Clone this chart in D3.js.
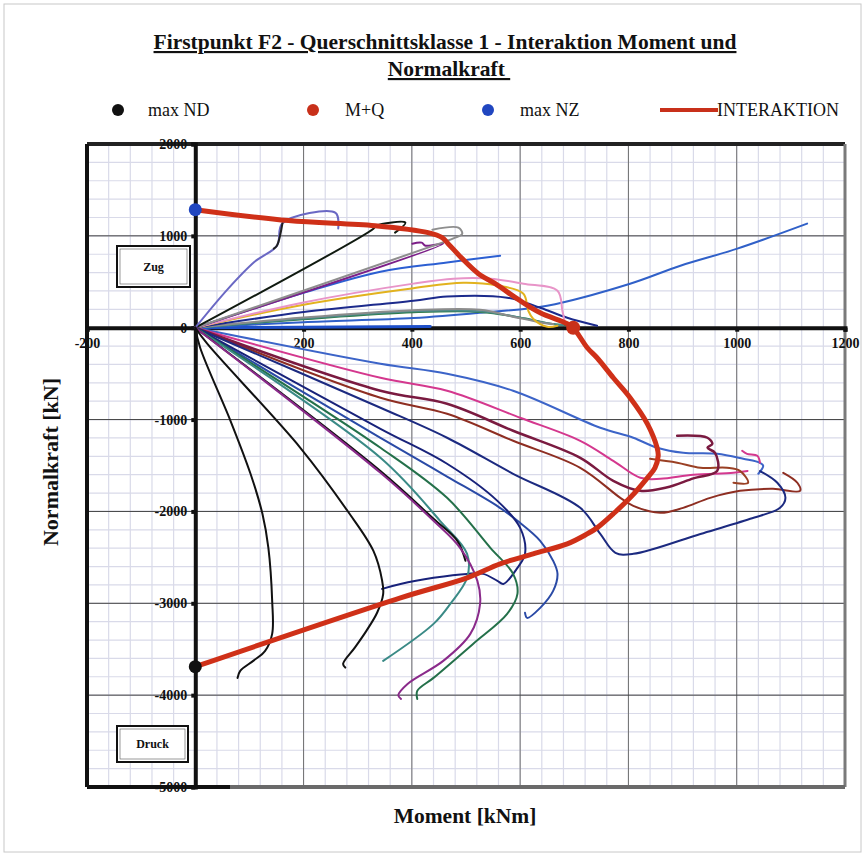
<!DOCTYPE html>
<html>
<head>
<meta charset="utf-8">
<script src="https://cdn.jsdelivr.net/npm/d3@7"></script>
<style>
  html, body { margin: 0; padding: 0; background: #fff; }
  svg { display: block; }
</style>
</head>
<body>
<svg id="chart" width="865" height="858"></svg>
<script>
// ---- Axis ticks ----
const xTickValues = [-200, 200, 400, 600, 800, 1000, 1200];
const yTickValues = [2000, 1000, 0, -1000, -2000, -3000, -4000, -5000];

// ---- Characteristic points [M kNm, N kN] ----
const maxND = [0, -3690];
const mPlusQ = [698, 0];
const maxNZ = [0, 1285];

// ---- Interaction curve ----
const interaktion = [[0,1285],[172,1166],[332,1111],[430,1035],[456,980],[467,915],[493,752],[523,588],[554,479],[600,294],[637,163],[687,44],[698,0],[724,-218],[742,-327],[772,-545],[803,-762],[835,-1046],[853,-1307],[855,-1394],[849,-1525],[835,-1634],[803,-1852],[772,-2026],[742,-2179],[724,-2244],[687,-2353],[624,-2462],[563,-2571],[502,-2723],[379,-2941],[0,-3690]];

// ---- Load paths, tension side ----
const tPeriwinkle = [[0,0],[60,420],[110,720],[151,894],[161,1137],[259,1250],[264,1080]];
const tPeriwinkleDark = [[145,860],[151,894],[161,1137]];
const tBlack = [[0,0],[329,1078],[334,1111],[388,1144],[369,1035]];
const tGray = [[0,0],[456,926],[480,980],[493,1024],[486,1089],[438,1067]];
const tPurple = [[0,0],[458,915],[425,893],[418,926],[401,915]];
const tBlue = [[0,0],[200,380],[342,610],[465,710],[563,784]];
const tPink = [[0,0],[200,275],[403,480],[477,534],[545,534],[606,479],[669,403],[678,185],[683,44]];
const tYellow = [[0,0],[200,250],[403,430],[495,490],[558,460],[606,370],[615,185],[624,98],[650,10],[669,22]];
const tNavy = [[0,0],[200,170],[403,294],[465,340],[576,327],[637,218],[687,109],[742,22]];
const tGray2 = [[0,0],[200,110],[403,190],[526,195],[587,120],[640,55],[661,40]];
const tTeal = [[0,0],[200,100],[403,180],[526,180],[600,110],[650,50],[680,30]];
const tGreen = [[0,0],[200,92],[403,168],[526,172],[610,100],[660,40],[690,25]];
const tBlueFar = [[0,0],[200,60],[403,105],[526,163],[650,240],[803,479],[896,675],[1001,861],[1130,1133]];
const tBlueAxis = [[0,0],[434,12]];

// ---- Load paths, compression side ----
const cBlue = [[0,0],[342,-392],[465,-501],[587,-686],[748,-1089],[809,-1198],[853,-1307],[901,-1362],[964,-1373],[1012,-1427],[1043,-1471],[1049,-1503],[1040,-1590]];
const cMagenta = [[0,0],[342,-545],[465,-686],[600,-980],[711,-1231],[772,-1449],[822,-1634],[859,-1645],[920,-1600],[994,-1580],[1020,-1560]];
const cMagentaTip = [[1010,-1340],[1019,-1373],[1038,-1394],[1043,-1470]];
const cMaroon = [[0,0],[342,-686],[465,-828],[587,-1122],[711,-1416],[772,-1667],[822,-1776],[870,-1740],[920,-1640],[964,-1558],[960,-1362],[946,-1307],[955,-1264],[946,-1198],[890,-1176]];
const cBrownUpper = [[840,-1427],[890,-1470],[933,-1525],[982,-1525],[1006,-1558],[1021,-1688],[994,-1688]];
const cBrown = [[0,0],[342,-762],[465,-937],[587,-1231],[711,-1525],[785,-1852],[809,-1939],[859,-2015],[901,-1961],[951,-1852],[1006,-1776],[1067,-1754],[1117,-1776],[1112,-1688],[1086,-1580]];
const cNavy1 = [[0,0],[342,-871],[465,-1198],[587,-1590],[711,-1961],[748,-2245],[776,-2450],[809,-2462],[933,-2245],[1025,-2080],[1080,-1961],[1090,-1852],[1075,-1688],[1043,-1560]];
const cNavy2 = [[0,0],[342,-1100],[465,-1481],[558,-1885],[600,-2179],[609,-2462],[595,-2614],[569,-2789],[558,-2756],[532,-2680],[502,-2680],[440,-2723],[379,-2789],[345,-2843]];
const cNavy3 = [[0,0],[342,-1200],[465,-1620],[560,-1950],[595,-2102],[637,-2320],[661,-2538],[669,-2680],[661,-2865],[637,-3050],[613,-3159],[609,-3104]];
const cGreen = [[0,0],[342,-1307],[465,-1852],[545,-2396],[587,-2680],[595,-2898],[576,-3115],[513,-3442],[440,-3812],[410,-3954],[410,-4041]];
const cTeal = [[0,0],[342,-1416],[452,-2102],[502,-2462],[502,-2723],[471,-3006],[440,-3224],[347,-3627]];
const cBlackTip = [[0,0],[342,-1560],[440,-2080],[484,-2320],[499,-2538]];
const cPurple = [[0,0],[342,-1580],[440,-2102],[489,-2396],[521,-2756],[526,-3006],[508,-3333],[458,-3627],[392,-3878],[375,-4000],[380,-4041]];
const cBlack1 = [[0,0],[9,-218],[65,-1013],[102,-1590],[124,-2026],[135,-2396],[142,-2974],[142,-3333],[129,-3518],[107,-3627],[83,-3736],[78,-3813]];
const cBlack2 = [[0,0],[22,-174],[194,-1307],[281,-1993],[329,-2430],[345,-2750],[347,-2900],[336,-3100],[316,-3300],[295,-3480],[273,-3660],[277,-3700]];

const paths = [
  { data: tBlueAxis, color: "#1e4fc8", width: 3 },
  { data: tBlueFar, color: "#3060c8", width: 2 },
  { data: tGreen, color: "#2f7a48", width: 2 },
  { data: tTeal, color: "#4a8a88", width: 2 },
  { data: tGray2, color: "#8c8c8c", width: 2 },
  { data: tNavy, color: "#1c2a8c", width: 2 },
  { data: tYellow, color: "#e2b21e", width: 2 },
  { data: tPink, color: "#e894c8", width: 2 },
  { data: tBlue, color: "#2c5fd2", width: 2 },
  { data: tPurple, color: "#7c1f88", width: 2 },
  { data: tGray, color: "#8e8e8e", width: 2 },
  { data: tBlack, color: "#101a10", width: 2 },
  { data: tPeriwinkle, color: "#6a68c4", width: 2 },
  { data: tPeriwinkleDark, color: "#202020", width: 2 },
  { data: cBlue, color: "#3c64c8", width: 2 },
  { data: cMagenta, color: "#d4388e", width: 2 },
  { data: cMagentaTip, color: "#d4388e", width: 2 },
  { data: cBrown, color: "#8e2e22", width: 2 },
  { data: cBrownUpper, color: "#9a4024", width: 2 },
  { data: cMaroon, color: "#7a1a40", width: 2.5 },
  { data: cNavy1, color: "#1c2a80", width: 2 },
  { data: cNavy3, color: "#2a4aa6", width: 2 },
  { data: cNavy2, color: "#18227a", width: 2 },
  { data: cGreen, color: "#24704a", width: 2 },
  { data: cTeal, color: "#3a8a86", width: 2 },
  { data: cBlackTip, color: "#111111", width: 2 },
  { data: cPurple, color: "#8a2a8a", width: 2 },
  { data: cBlack1, color: "#111111", width: 2 },
  { data: cBlack2, color: "#111111", width: 2 }
];

const FONT = "'Liberation Serif', 'Tinos', 'Times New Roman', 'DejaVu Serif', serif";
const svg = d3.select("#chart").style("font-family", FONT);
const W = 865, H = 858;

// faint frame around the sheet
svg.append("rect").attr("x", 4).attr("y", 4).attr("width", W - 8).attr("height", H - 10)
  .attr("fill", "none").attr("stroke", "#c8c8c8").attr("stroke-width", 1);

const plotL = 87, plotR = 845, plotT = 144, plotB = 787;
const x = d3.scaleLinear().domain([-200, 1200]).range([plotL, plotR]);
const y = d3.scaleLinear().domain([2000, -5000]).range([plotT, plotB]);

// minor grid
const g = svg.append("g");
d3.range(-200, 1201, 40).forEach(v => {
  g.append("line").attr("x1", x(v)).attr("x2", x(v)).attr("y1", plotT).attr("y2", plotB)
    .attr("stroke", "#d9dae9").attr("stroke-width", 1.2);
});
d3.range(-5000, 2001, 200).forEach(v => {
  g.append("line").attr("x1", plotL).attr("x2", plotR).attr("y1", y(v)).attr("y2", y(v))
    .attr("stroke", "#d9dae9").attr("stroke-width", 1.2);
});
// major grid
d3.range(-200, 1201, 200).forEach(v => {
  g.append("line").attr("x1", x(v)).attr("x2", x(v)).attr("y1", plotT).attr("y2", plotB)
    .attr("stroke", "#707070").attr("stroke-width", 1);
});
d3.range(-5000, 2001, 1000).forEach(v => {
  g.append("line").attr("x1", plotL).attr("x2", plotR).attr("y1", y(v)).attr("y2", y(v))
    .attr("stroke", "#404040").attr("stroke-width", 1);
});

// plot frame
svg.append("line").attr("x1", plotL).attr("x2", plotR).attr("y1", plotT).attr("y2", plotT)
  .attr("stroke", "#222").attr("stroke-width", 4);
svg.append("line").attr("x1", plotL).attr("x2", plotL).attr("y1", plotT).attr("y2", plotB)
  .attr("stroke", "#111").attr("stroke-width", 4);
svg.append("line").attr("x1", plotR).attr("x2", plotR).attr("y1", plotT).attr("y2", plotB)
  .attr("stroke", "#7a7a7a").attr("stroke-width", 3);
svg.append("line").attr("x1", plotL).attr("x2", plotR).attr("y1", plotB).attr("y2", plotB)
  .attr("stroke", "#6a6a6a").attr("stroke-width", 4);
svg.append("line").attr("x1", plotL).attr("x2", 230).attr("y1", plotB).attr("y2", plotB)
  .attr("stroke", "#111").attr("stroke-width", 4);

// text boxes
function labelBox(x0, y0, w, h, label) {
  svg.append("rect").attr("x", x0).attr("y", y0).attr("width", w).attr("height", h)
    .attr("fill", "#fff").attr("stroke", "#111").attr("stroke-width", 2);
  svg.append("rect").attr("x", x0 + 3).attr("y", y0 + 3).attr("width", w - 6).attr("height", h - 6)
    .attr("fill", "none").attr("stroke", "#555").attr("stroke-width", 0.6);
  svg.append("text").attr("x", x0 + w / 2).attr("y", y0 + h / 2 + 4)
    .attr("text-anchor", "middle").attr("font-size", 12).attr("font-weight", "bold")
    .attr("font-family", FONT).attr("fill", "#111").text(label);
}
labelBox(117, 246, 73, 41, "Zug");
labelBox(117, 726, 71, 36, "Druck");

// axes through the origin
const fmt = d => String(d);
const yAxis = d3.axisLeft(y).tickValues(yTickValues).tickSize(4).tickPadding(4).tickFormat(fmt);
const yAxisG = svg.append("g").attr("transform", `translate(${x(0)},0)`).call(yAxis)
  .attr("font-family", FONT).attr("font-size", 14);
yAxisG.select(".domain").attr("stroke", "#111").attr("stroke-width", 4);
yAxisG.selectAll(".tick line").attr("stroke", "#111").attr("stroke-width", 4);
yAxisG.selectAll(".tick text").attr("font-family", FONT)
  .attr("font-size", 14).attr("font-weight", "bold").attr("fill", "#111");

const xAxis = d3.axisBottom(x).tickValues(xTickValues).tickSize(4).tickPadding(6).tickFormat(fmt);
const xAxisG = svg.append("g").attr("transform", `translate(0,${y(0)})`).call(xAxis)
  .attr("font-family", FONT).attr("font-size", 14);
xAxisG.select(".domain").attr("stroke", "#111").attr("stroke-width", 4);
xAxisG.selectAll(".tick line").attr("stroke", "#111").attr("stroke-width", 4);
xAxisG.selectAll(".tick text").attr("font-family", FONT)
  .attr("font-size", 14).attr("font-weight", "bold").attr("fill", "#111");

// load paths
const line = d3.line().x(d => x(d[0])).y(d => y(d[1])).curve(d3.curveCatmullRom.alpha(0.5));
const curves = svg.append("g").attr("fill", "none").attr("stroke-linejoin", "round").attr("stroke-linecap", "round");
paths.forEach(p => {
  curves.append("path").attr("d", line(p.data)).attr("stroke", p.color).attr("stroke-width", p.width);
});

// interaction curve
svg.append("path").attr("d", line(interaktion)).attr("fill", "none")
  .attr("stroke", "#cf3018").attr("stroke-width", 5).attr("stroke-linejoin", "round");

// characteristic points
svg.append("circle").attr("cx", x(maxND[0])).attr("cy", y(maxND[1])).attr("r", 6.5).attr("fill", "#111");
svg.append("circle").attr("cx", x(mPlusQ[0])).attr("cy", y(mPlusQ[1])).attr("r", 7).attr("fill", "#c8301a");
svg.append("circle").attr("cx", x(maxNZ[0])).attr("cy", y(maxNZ[1])).attr("r", 6.5).attr("fill", "#2046c0");

// title
const title = svg.append("g").attr("font-family", FONT).attr("font-size", 21.5).attr("font-weight", "bold")
  .attr("fill", "#111").attr("text-anchor", "middle");
title.append("text").attr("x", 445).attr("y", 49).attr("text-decoration", "underline")
  .text("Firstpunkt F2 - Querschnittsklasse 1 - Interaktion Moment und");
title.append("text").attr("x", 449).attr("y", 76).attr("text-decoration", "underline")
  .text("Normalkraft\u00a0");

// legend
const legend = svg.append("g").attr("font-family", FONT).attr("font-size", 18).attr("fill", "#111");
legend.append("circle").attr("cx", 118).attr("cy", 110).attr("r", 6).attr("fill", "#111");
legend.append("text").attr("x", 148).attr("y", 116).text("max ND");
legend.append("circle").attr("cx", 313).attr("cy", 110).attr("r", 6).attr("fill", "#c8301a");
legend.append("text").attr("x", 345).attr("y", 116).text("M+Q");
legend.append("circle").attr("cx", 488).attr("cy", 110).attr("r", 6).attr("fill", "#2046c0");
legend.append("text").attr("x", 520).attr("y", 116).text("max NZ");
legend.append("line").attr("x1", 660).attr("x2", 718).attr("y1", 110).attr("y2", 110)
  .attr("stroke", "#c8301a").attr("stroke-width", 4);
legend.append("text").attr("x", 717).attr("y", 116).text("INTERAKTION");

// axis titles
svg.append("text").attr("x", 465).attr("y", 823).attr("text-anchor", "middle").attr("font-family", FONT)
  .attr("font-size", 21.5).attr("font-weight", "bold").attr("fill", "#111").text("Moment [kNm]");
svg.append("text").attr("transform", "translate(58,462) rotate(-90)").attr("text-anchor", "middle")
  .attr("font-family", FONT).attr("font-size", 22).attr("font-weight", "bold").attr("fill", "#111")
  .text("Normalkraft [kN]");
</script>
</body>
</html>
